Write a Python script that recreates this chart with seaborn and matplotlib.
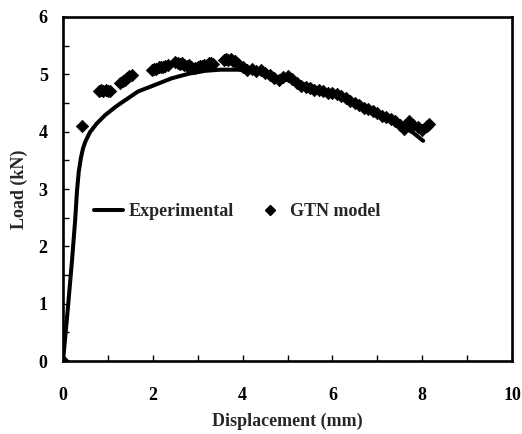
import matplotlib
matplotlib.use("Agg")
import matplotlib.pyplot as plt
from matplotlib.lines import Line2D
from matplotlib.ticker import MultipleLocator
import pandas as pd
import seaborn as sns

# experimental load-displacement curve
exp_disp = [0, 0.1, 0.2, 0.27, 0.31, 0.35, 0.4, 0.45, 0.5, 0.6, 0.75, 0.94, 1.2,
            1.67, 2.0, 2.42, 2.8, 3.16, 3.5, 3.9, 4.2, 4.6, 5.0, 5.5, 6.0, 6.5,
            7.0, 7.5, 7.8, 8.02]
exp_load = [0, 0.85, 1.75, 2.45, 2.95, 3.3, 3.55, 3.72, 3.83, 3.99, 4.14, 4.29,
            4.45, 4.7, 4.8, 4.93, 5.01, 5.06, 5.08, 5.08, 5.05, 4.98, 4.9, 4.8,
            4.66, 4.5, 4.33, 4.12, 3.98, 3.84]

# GTN model points
gtn_disp = [0, 0.43, 0.8, 0.85, 0.9, 0.95, 1.0, 1.05, 1.28, 1.33, 1.38, 1.43,
            1.48, 1.53, 1.98, 2.03, 2.08, 2.13, 2.18, 2.23, 2.28, 2.33, 2.5, 2.55,
            2.6, 2.65, 2.7, 2.75, 2.8, 2.85, 2.95, 3.0, 3.05, 3.1, 3.15, 3.2, 3.25,
            3.3, 3.35, 3.58, 3.63, 3.68, 3.73, 3.78, 3.83,
            3.9, 4.0, 4.1, 4.2, 4.3, 4.4, 4.5, 4.6, 4.7, 4.8, 4.9, 5.0, 5.1, 5.2,
            5.3, 5.4, 5.5, 5.6, 5.7, 5.8, 5.9, 6.0, 6.1, 6.2, 6.3, 6.4, 6.5, 6.6,
            6.7, 6.8, 6.9, 7.0, 7.1, 7.2, 7.3, 7.4, 7.5, 7.6, 7.7, 7.8, 7.9, 8.0,
            8.1, 8.15]
gtn_load = [0, 4.1, 4.7, 4.72, 4.7, 4.73, 4.71, 4.7, 4.85, 4.88, 4.9, 4.94,
            4.97, 4.98, 5.08, 5.1, 5.09, 5.12, 5.13, 5.12, 5.15, 5.17, 5.22, 5.2,
            5.18, 5.2, 5.17, 5.15, 5.16, 5.13, 5.11, 5.13, 5.15, 5.14, 5.17, 5.16,
            5.19, 5.2, 5.18, 5.25, 5.27, 5.25, 5.26, 5.23, 5.24,
            5.18, 5.12, 5.08, 5.1, 5.05, 5.07, 5.03, 4.98, 4.93, 4.9, 4.95, 4.97,
            4.92, 4.85, 4.8, 4.78, 4.76, 4.73, 4.72, 4.7, 4.68, 4.67, 4.65, 4.62,
            4.58, 4.53, 4.5, 4.46, 4.42, 4.4, 4.36, 4.32, 4.28, 4.25, 4.22, 4.18,
            4.12, 4.05, 4.18, 4.12, 4.08, 4.03, 4.1, 4.13]

exp_df = pd.DataFrame({"disp": exp_disp, "load": exp_load})
gtn_df = pd.DataFrame({"disp": gtn_disp, "load": gtn_load})

sns.set_style("ticks")
plt.rcParams["font.family"] = ["Liberation Serif", "DejaVu Serif"]
plt.rcParams["font.weight"] = "bold"

fig = plt.figure(figsize=(5.22, 4.34), dpi=100)
ax = fig.add_axes([0.1207, 0.168, 0.8603, 0.793])

sns.lineplot(data=exp_df, x="disp", y="load", sort=False, color="black",
             linewidth=2.9, ax=ax)
sns.scatterplot(data=gtn_df, x="disp", y="load", marker="D", color="black",
                s=40, edgecolor="black", linewidth=0.5, ax=ax, zorder=3)

ax.set_xlim(0, 10)
ax.set_ylim(0, 6)
ax.xaxis.set_major_locator(MultipleLocator(2))
ax.xaxis.set_minor_locator(MultipleLocator(1))
ax.yaxis.set_major_locator(MultipleLocator(1))
ax.yaxis.set_minor_locator(MultipleLocator(0.5))
ax.tick_params(which="both", direction="in", length=4, width=1, colors="black",
               labelsize=13)
ax.tick_params(axis="x", which="major", pad=19)
ax.tick_params(axis="y", which="major", pad=11)
for lab in ax.get_xticklabels() + ax.get_yticklabels():
    lab.set_fontweight("bold")

for sp in ax.spines.values():
    sp.set_visible(True)
    sp.set_linewidth(1.9)
    sp.set_color("black")

ax.set_xlabel("Displacement (mm)", fontsize=13, fontweight="bold", labelpad=6)
ax.set_ylabel("Load (kN)", fontsize=13, fontweight="bold", labelpad=8)

handles = [
    Line2D([], [], color="black", linewidth=2.9),
    Line2D([], [], color="black", marker="D", linestyle="none", markersize=5.5),
]
ax.legend(handles, ["Experimental", "GTN model"], ncol=2, frameon=False,
          loc="center left", bbox_to_anchor=(0.07, 0.435), borderpad=0,
          borderaxespad=0, handlelength=1.6, handletextpad=0.3,
          columnspacing=1.2, prop={"size": 13, "weight": "bold"})

fig.savefig("out.png", dpi=100)
